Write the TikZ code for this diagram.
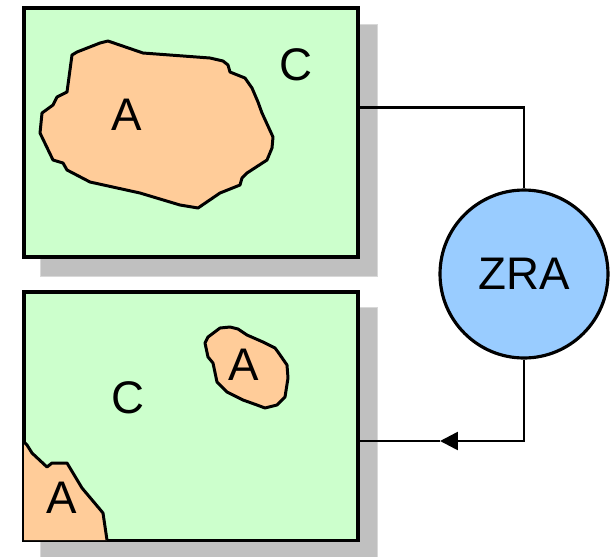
\documentclass[tikz,border=0pt]{standalone}
\usepackage{fontspec}
\setmainfont{Liberation Sans}
\usetikzlibrary{positioning, calc, arrows.meta, backgrounds}

\definecolor{verdeC}{HTML}{CCFFCC}
\definecolor{laranjaA}{HTML}{FFCC99}
\definecolor{azulZ}{HTML}{99CCFF}
\definecolor{sombraC}{HTML}{C0C0C0}
\definecolor{sombraB}{HTML}{D8D8D8}

\begin{document}
\begin{tikzpicture}[x=0.02cm, y=-0.02cm,
    node distance=0.62cm,
    regiao/.style={rectangle, draw, line width=2.1pt, fill=verdeC,
                   minimum width=6.68cm, minimum height=4.98cm, inner sep=0pt},
    sombra/.style={fill=sombraC, draw=sombraB, line width=0.6pt},
    mancha/.style={draw, line width=1.7pt, fill=laranjaA, line join=round},
    rotulo/.style={font=\fontsize{26}{26}\selectfont, inner sep=0pt},
    disco/.style={circle, draw, line width=1.8pt, fill=azulZ,
                  minimum size=3.36cm, inner sep=0pt, font=\fontsize{26}{26}\selectfont},
    fio/.style={line width=1.5pt}
]
\useasboundingbox (0,0) rectangle (616,556);

% Regioes
\node[regiao] (topbox) at (191,132.5) {};
\node[regiao, below=of topbox] (botbox) {};
\node[disco] (zra) at (524,274) {ZRA};

% Sombras
\begin{scope}[on background layer]
\filldraw[sombra] ([shift={(18,18)}]topbox.north west) rectangle ([shift={(18,18)}]topbox.south east);
\filldraw[sombra] ([shift={(18,18)}]botbox.north west) rectangle ([shift={(18,18)}]botbox.south east);
\end{scope}

% Manchas
\draw[mancha] (108,41) -- (143,53) -- (210,58) -- (223,61) -- (228,65) -- (230,72)
  -- (245,78) -- (252,88) -- (258,102) -- (262,113) -- (273,137) -- (272,148)
  -- (267,160) -- (247,173) -- (242,178) -- (240,185) -- (220,193) -- (198,208)
  -- (180,205) -- (140,193) -- (90,182) -- (67,170) -- (63,163) -- (53,160)
  -- (40,133) -- (42,113) -- (53,105) -- (57,97) -- (67,92) -- (72,55)
  -- (77,52) -- (100,43) -- cycle;
\draw[mancha] (208,337) -- (220,328) -- (230,327) -- (238,329) -- (247,335)
  -- (263,342) -- (275,348) -- (278,352) -- (287,365) -- (288,378) -- (285,397)
  -- (277,405) -- (265,408) -- (257,405) -- (243,400) -- (227,392) -- (217,382)
  -- (213,363) -- (208,357) -- (205,343) -- cycle;
\fill[laranjaA] (24,442) -- (27,445) -- (32,453) -- (47,467) -- (52,463) -- (67,463)
  -- (82,488) -- (98,507) -- (103,513) -- (107,540) -- (24,540) -- cycle;
\draw[mancha, fill=none] (24,442) -- (27,445) -- (32,453) -- (47,467) -- (52,463)
  -- (67,463) -- (82,488) -- (98,507) -- (103,513) -- (107,540);

% Rotulos
\node[rotulo] (rotA1) at (127,115) {A};
\node[rotulo] (rotC1) at (296,65) {C};
\node[rotulo] (rotA2) at (244,365) {A};
\node[rotulo] (rotC2) at (128,398) {C};
\node[rotulo] (rotA3) at (62,498) {A};

% Ligacoes
\coordinate (ponta) at (440,441);
\draw[fio] ($(topbox.north east)!0.4!(topbox.south east)$) -| (zra.north);
\draw[fio, -{Triangle[length=0.36cm, width=0.36cm]}] (zra.south) |- (ponta);
\draw[fio] (ponta) -- (ponta -| botbox.east);

\end{tikzpicture}
\end{document}
